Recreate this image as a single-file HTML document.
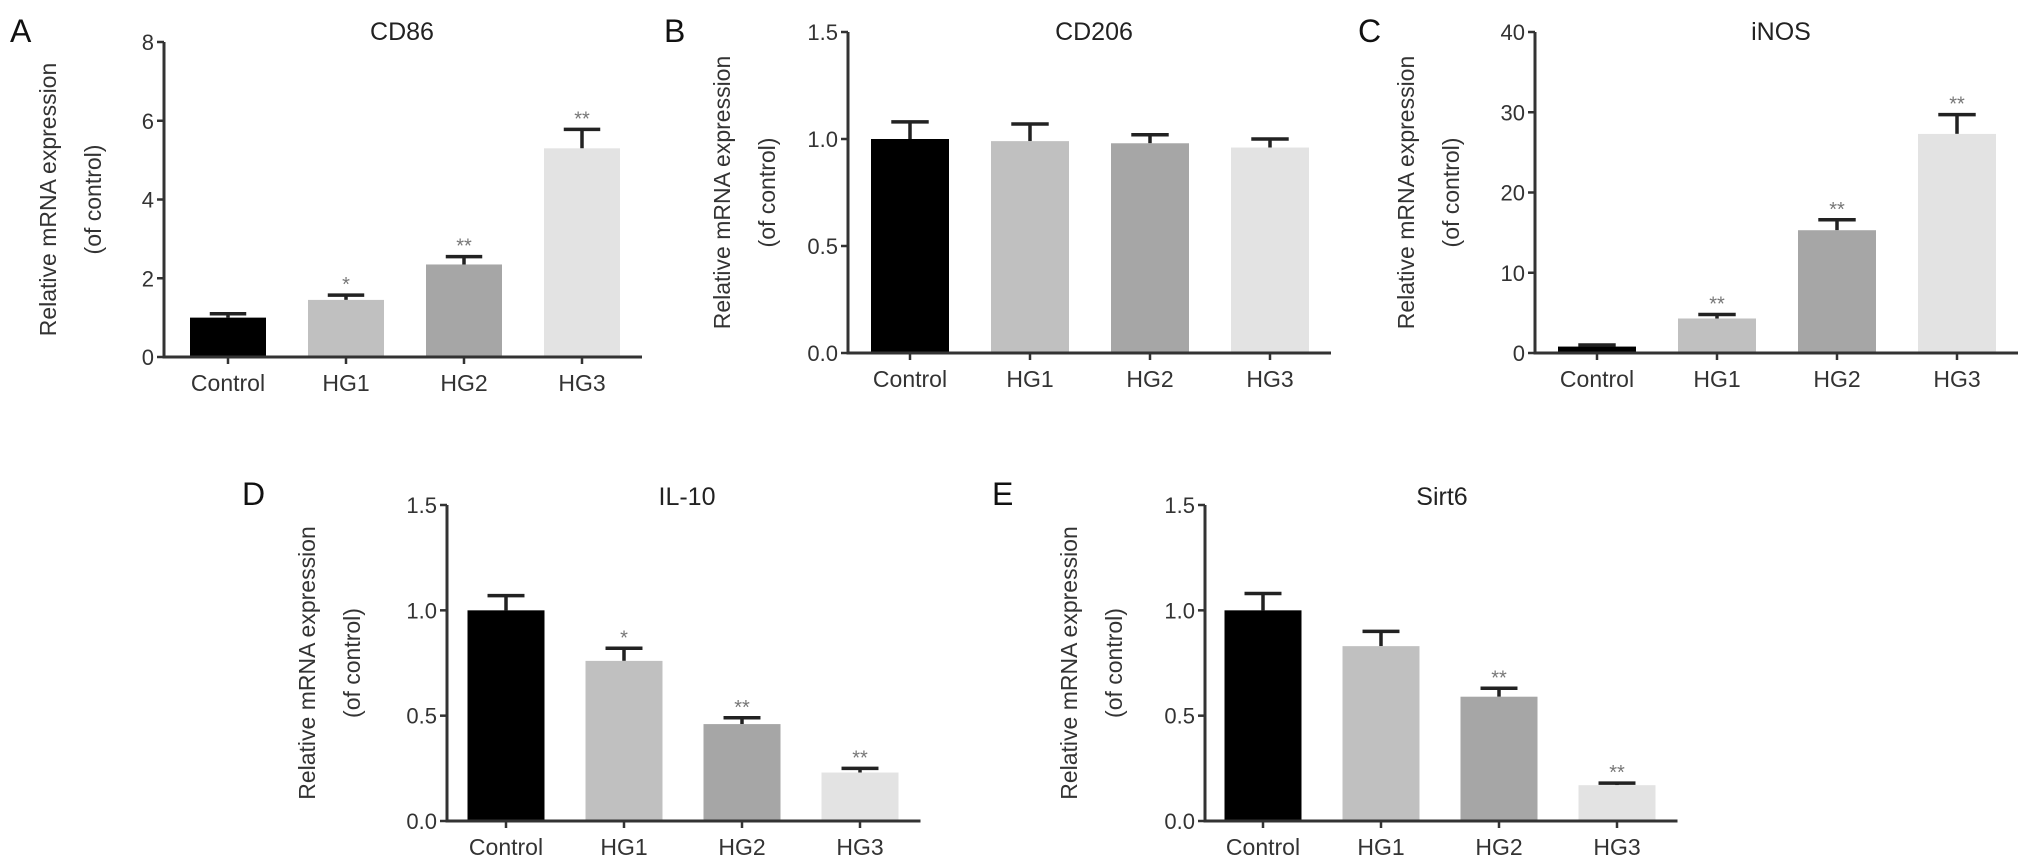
<!DOCTYPE html>
<html><head><meta charset="utf-8"><style>
html,body{margin:0;padding:0;background:#fff;}
svg{display:block;font-family:"Liberation Sans",Arial,sans-serif;}
</style></head><body>
<svg id="fig" width="2031" height="868" viewBox="0 0 2031 868" xmlns="http://www.w3.org/2000/svg"></svg>
<script>
const categories = ["Control","HG1","HG2","HG3"];
const cd86Values = [1.0, 1.45, 2.35, 5.3];
const cd86Errors = [1.1, 1.57, 2.55, 5.78];
const cd86Stars = ["", "*", "**", "**"];
const cd86Ticks = [0, 2, 4, 6, 8];
const cd206Values = [1.0, 0.99, 0.98, 0.96];
const cd206Errors = [1.08, 1.07, 1.02, 1.0];
const cd206Stars = ["", "", "", ""];
const cd206Ticks = [0, 0.5, 1.0, 1.5];
const inosValues = [0.8, 4.3, 15.3, 27.3];
const inosErrors = [1.0, 4.8, 16.6, 29.7];
const inosStars = ["", "**", "**", "**"];
const inosTicks = [0, 10, 20, 30, 40];
const il10Values = [1.0, 0.76, 0.46, 0.23];
const il10Errors = [1.07, 0.82, 0.49, 0.25];
const il10Stars = ["", "*", "**", "**"];
const il10Ticks = [0, 0.5, 1.0, 1.5];
const sirt6Values = [1.0, 0.83, 0.59, 0.17];
const sirt6Errors = [1.08, 0.90, 0.63, 0.18];
const sirt6Stars = ["", "", "**", "**"];
const sirt6Ticks = [0, 0.5, 1.0, 1.5];

const colors = ["#000000","#c0c0c0","#a6a6a6","#e3e3e3"];
const NS = "http://www.w3.org/2000/svg";
const svg = document.getElementById("fig");
function mk(tag, attrs, parent){ const e=document.createElementNS(NS,tag); for(const k in attrs) e.setAttribute(k,attrs[k]); (parent||svg).appendChild(e); return e; }

function panel(o){
  const g = mk("g",{});
  
  
  const ymax = o.ticks[o.ticks.length-1];
  const yS = v => o.y0 - (v/ymax)*(o.y0-o.yTop);
  const xS = i => o.x1 + o.spacing*i;
  const L = mk("text",{x:o.lx,y:o.ly,"font-size":32,fill:"#111"},g); L.textContent=o.letter;
  
  
  const T = mk("text",{x:o.tx,y:o.ty,"font-size":25,fill:"#222","text-anchor":"middle"},g); T.textContent=o.title;
  
  
  const yl = mk("text",{transform:`translate(${o.ylx},${(o.y0+o.yTop)/2}) rotate(-90)`,"font-size":23,fill:"#333","text-anchor":"middle"},g);
  yl.textContent="Relative mRNA expression";
  
  
  const yl2 = mk("text",{transform:`translate(${o.ylx+45},${(o.y0+o.yTop)/2}) rotate(-90)`,"font-size":23,fill:"#333","text-anchor":"middle"},g);
  yl2.textContent="(of control)";
  
  
  const bw = o.bw;
  o.values.forEach((v,i)=>{
    const cx = xS(i);
    const top = yS(o.errors[i]);
    const eb = mk("path",{d:`M${cx},${yS(v)} L${cx},${top} M${cx-bw*0.24},${top} L${cx+bw*0.24},${top}`,stroke:"#222","stroke-width":3.5,fill:"none"},g);
    
    
    const r = mk("rect",{x:cx-bw/2,y:yS(v),width:bw,height:o.y0-yS(v),fill:colors[i]},g);
    
    
    if(o.stars[i]){
      const s = mk("text",{x:cx,y:top-4,"font-size":20,fill:"#777","text-anchor":"middle"},g);
      s.textContent=o.stars[i];
      
      
    }
    const xl = mk("line",{x1:cx,y1:o.y0,x2:cx,y2:o.y0+7,stroke:"#333","stroke-width":2.5},g);
    
    
    const lt = mk("text",{x:cx,y:o.y0+34,"font-size":23,fill:"#333","text-anchor":"middle"},g);
    lt.textContent=categories[i];
    
    
  });
  const ax = mk("path",{d:`M${o.ax},${o.yTop} L${o.ax},${o.y0} L${xS(3)+bw/2+22},${o.y0}`,stroke:"#333","stroke-width":3,fill:"none"},g);
  
  
  o.ticks.forEach(t=>{
    const yy=yS(t);
    const tl = mk("line",{x1:o.ax-7,y1:yy,x2:o.ax,y2:yy,stroke:"#333","stroke-width":2.5},g);
    
    
    const tt = mk("text",{x:o.ax-10,y:yy+8,"font-size":22,fill:"#333","text-anchor":"end"},g);
    tt.textContent = o.fmt(t);
    
    
  });
}
const f0 = t=>String(t), f1 = t=>t.toFixed(1);
panel({key:"cd86",letter:"A",title:"CD86",lx:10,ly:42,tx:402,ty:40,ylx:56,ax:164,yTop:42,y0:357,x1:228,spacing:118,bw:76,values:cd86Values,errors:cd86Errors,stars:cd86Stars,ticks:cd86Ticks,fmt:f0});
panel({key:"cd206",letter:"B",title:"CD206",lx:664,ly:42,tx:1094,ty:40,ylx:730,ax:848,yTop:32,y0:353,x1:910,spacing:120,bw:78,values:cd206Values,errors:cd206Errors,stars:cd206Stars,ticks:cd206Ticks,fmt:f1});
panel({key:"inos",letter:"C",title:"iNOS",lx:1358,ly:42,tx:1781,ty:40,ylx:1414,ax:1535,yTop:32,y0:353,x1:1597,spacing:120,bw:78,values:inosValues,errors:inosErrors,stars:inosStars,ticks:inosTicks,fmt:f0});
panel({key:"il10",letter:"D",title:"IL-10",lx:242,ly:505,tx:687,ty:505,ylx:315,ax:447,yTop:505,y0:821,x1:506,spacing:118,bw:77,values:il10Values,errors:il10Errors,stars:il10Stars,ticks:il10Ticks,fmt:f1});
panel({key:"sirt6",letter:"E",title:"Sirt6",lx:992,ly:505,tx:1442,ty:505,ylx:1077,ax:1205,yTop:505,y0:821,x1:1263,spacing:118,bw:77,values:sirt6Values,errors:sirt6Errors,stars:sirt6Stars,ticks:sirt6Ticks,fmt:f1});
</script>
</body></html>
